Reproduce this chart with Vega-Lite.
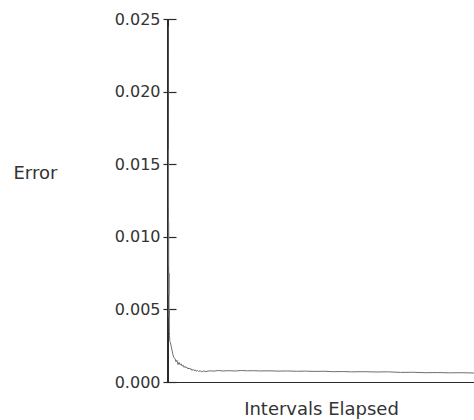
{
  "$schema": "https://vega.github.io/schema/vega-lite/v6.json",
  "width": 306,
  "height": 363,
  "autosize": {"type": "none"},
  "padding": {"left": 168, "top": 19, "right": 0, "bottom": 38},
  "background": "#ffffff",
  "config": {
    "view": {"stroke": null},
    "font": "DejaVu Sans"
  },
  "data": {
    "values": [
      {"interval": 0, "error": 0.0245},
      {"interval": 0.5, "error": 0.012},
      {"interval": 1, "error": 0.016},
      {"interval": 1.5, "error": 0.008},
      {"interval": 2, "error": 0.011},
      {"interval": 2.5, "error": 0.006},
      {"interval": 3, "error": 0.0075},
      {"interval": 3.5, "error": 0.0045},
      {"interval": 4, "error": 0.005},
      {"interval": 4.5, "error": 0.0035},
      {"interval": 5, "error": 0.0032},
      {"interval": 6, "error": 0.0028},
      {"interval": 8, "error": 0.0027},
      {"interval": 10, "error": 0.0025},
      {"interval": 13, "error": 0.0022},
      {"interval": 16, "error": 0.0019},
      {"interval": 19, "error": 0.0017},
      {"interval": 23, "error": 0.0016},
      {"interval": 26, "error": 0.0014},
      {"interval": 29, "error": 0.0015},
      {"interval": 33, "error": 0.0012},
      {"interval": 36, "error": 0.00135},
      {"interval": 39, "error": 0.0012},
      {"interval": 43, "error": 0.00125},
      {"interval": 46, "error": 0.0011},
      {"interval": 50, "error": 0.00115},
      {"interval": 53, "error": 0.001},
      {"interval": 56, "error": 0.00108},
      {"interval": 59, "error": 0.00098},
      {"interval": 62, "error": 0.00102},
      {"interval": 65, "error": 0.0009},
      {"interval": 69, "error": 0.00096},
      {"interval": 72, "error": 0.00088},
      {"interval": 75, "error": 0.00092},
      {"interval": 78, "error": 0.0008},
      {"interval": 82, "error": 0.00087},
      {"interval": 85, "error": 0.00079},
      {"interval": 89, "error": 0.00083},
      {"interval": 92, "error": 0.00074},
      {"interval": 96, "error": 0.0008},
      {"interval": 100, "error": 0.00073},
      {"interval": 105, "error": 0.00077},
      {"interval": 110, "error": 0.0007},
      {"interval": 116, "error": 0.00076},
      {"interval": 124, "error": 0.00072},
      {"interval": 135, "error": 0.00077},
      {"interval": 150, "error": 0.00075},
      {"interval": 165, "error": 0.00079},
      {"interval": 180, "error": 0.00076},
      {"interval": 200, "error": 0.00078},
      {"interval": 220, "error": 0.00076},
      {"interval": 240, "error": 0.00079},
      {"interval": 260, "error": 0.00077},
      {"interval": 280, "error": 0.00078},
      {"interval": 300, "error": 0.00076},
      {"interval": 330, "error": 0.00077},
      {"interval": 360, "error": 0.00075},
      {"interval": 390, "error": 0.00076},
      {"interval": 420, "error": 0.00074},
      {"interval": 450, "error": 0.00075},
      {"interval": 480, "error": 0.00073},
      {"interval": 510, "error": 0.00074},
      {"interval": 540, "error": 0.00071},
      {"interval": 570, "error": 0.00072},
      {"interval": 600, "error": 0.0007},
      {"interval": 640, "error": 0.00071},
      {"interval": 680, "error": 0.00069},
      {"interval": 720, "error": 0.0007},
      {"interval": 760, "error": 0.00066},
      {"interval": 800, "error": 0.00067},
      {"interval": 840, "error": 0.00064},
      {"interval": 880, "error": 0.00065},
      {"interval": 920, "error": 0.00063},
      {"interval": 960, "error": 0.00064},
      {"interval": 1000, "error": 0.00062}
    ]
  },
  "layer": [
    {
      "mark": {"type": "rule", "color": "#2a2a2a", "strokeWidth": 1.2},
      "encoding": {"x": {"datum": 0, "type": "quantitative"}}
    },
    {
      "mark": {"type": "line", "color": "#6e6e6e", "strokeWidth": 1, "clip": true},
      "encoding": {
        "x": {
          "field": "interval",
          "type": "quantitative",
          "scale": {"domain": [0, 1000], "nice": false, "zero": true},
          "axis": {
            "title": "Intervals Elapsed",
            "labels": false,
            "ticks": false,
            "grid": false,
            "domainColor": "#2a2a2a",
            "domainWidth": 1.2,
            "titleFont": "DejaVu Sans",
            "titleFontSize": 18,
            "titleFontWeight": "normal",
            "titleColor": "#333333",
            "titlePadding": 18
          }
        },
        "y": {
          "field": "error",
          "type": "quantitative",
          "scale": {"domain": [0, 0.025], "nice": false},
          "axis": {
            "title": "Error",
            "values": [0, 0.005, 0.01, 0.015, 0.02, 0.025],
            "format": ".3f",
            "grid": false,
            "domain": false,
            "offset": -8,
            "tickSize": 13,
            "tickColor": "#2a2a2a",
            "tickWidth": 1.2,
            "labelPadding": 3,
            "labelFont": "DejaVu Sans",
            "labelFontSize": 16,
            "labelColor": "#333333",
            "titleFont": "DejaVu Sans",
            "titleFontSize": 18,
            "titleFontWeight": "normal",
            "titleColor": "#333333",
            "titleAngle": 0,
            "titleAlign": "left",
            "titleBaseline": "middle",
            "titleX": -163,
            "titleY": 154
          }
        }
      }
    }
  ]
}
